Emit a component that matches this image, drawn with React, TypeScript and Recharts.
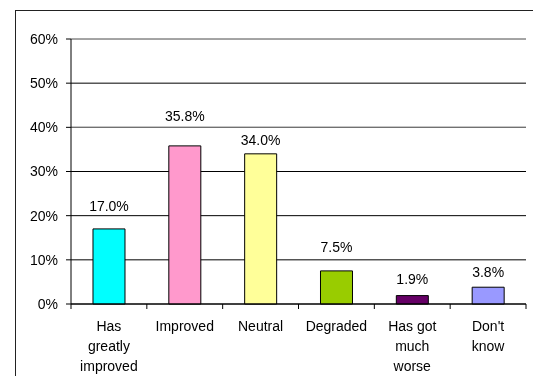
import React from 'react';
import { BarChart, Bar, XAxis, YAxis, CartesianGrid, LabelList, Cell, ReferenceLine } from 'recharts';

const categories = ['Has\ngreatly\nimproved', 'Improved', 'Neutral', 'Degraded', 'Has got\nmuch\nworse', "Don't\nknow"];
const shares = [17.0, 35.8, 34.0, 7.5, 1.9, 3.8];
const yTicks = [0, 10, 20, 30, 40, 50, 60];

const barColors = ['#00FFFF', '#FF99CC', '#FFFF99', '#99CC00', '#660066', '#9999FF'];
const labelGaps = [23, 29.5, 13.5, 24, 16.5, 15.5];
const FONT = '"Liberation Sans", Arial, sans-serif';

const CHART_W = 516;
const MARGIN = { top: 28, right: 6, left: 0, bottom: 0 };
const Y_W = 55;
const PLOT_W = CHART_W - MARGIN.left - MARGIN.right - Y_W;
const TICK_MARGIN = 12;

const data = categories.map((c, i) => ({ name: c, value: shares[i] }));

const XTick = (props: any) => {
  const { x, y, payload, index } = props;
  const band = PLOT_W / categories.length;
  const axisY = y - TICK_MARGIN;
  const lines = String(payload.value).split('\n');
  return (
    <g>
      <line x1={x - band / 2} x2={x - band / 2} y1={axisY} y2={axisY + 5} stroke="#000" />
      {index === categories.length - 1 && (
        <line x1={x + band / 2} x2={x + band / 2} y1={axisY} y2={axisY + 5} stroke="#000" />
      )}
      {lines.map((l: string, i: number) => (
        <text key={i} x={x} y={y + 15 + i * 20} textAnchor="middle" fontSize={14} fontFamily={FONT} fill="#000">
          {l}
        </text>
      ))}
    </g>
  );
};

const TopLabel = (props: any) => {
  const { x, y, width, value, index } = props;
  return (
    <text x={x + width / 2} y={y - labelGaps[index] + 5} textAnchor="middle" fontSize={14} fontFamily={FONT} fill="#000">
      {Number(value).toFixed(1) + '%'}
    </text>
  );
};

export default function App() {
  return (
    <div style={{ position: 'fixed', left: 15, top: 10, width: 540, height: 366, overflow: 'hidden' }}>
      <div style={{ width: 536, height: 380, border: '1px solid #222' }}>
        <BarChart width={CHART_W} height={366} data={data} margin={MARGIN} barCategoryGap="29%">
          <CartesianGrid vertical={false} stroke="#000" />
          <ReferenceLine y={60} stroke="#c8c8c8" />
          <ReferenceLine y={40} stroke="#808080" />
          <XAxis
            dataKey="name"
            interval={0}
            tick={<XTick />}
            tickLine={false}
            axisLine={{ stroke: '#000' }}
            height={73}
            tickSize={0}
            tickMargin={TICK_MARGIN}
          />
          <YAxis
            domain={[0, 60]}
            ticks={yTicks}
            tickFormatter={(v: number) => `${v}%`}
            tick={{ fontSize: 14, fontFamily: FONT, fill: '#000' }}
            axisLine={{ stroke: '#000' }}
            tickLine={{ stroke: '#000' }}
            tickSize={5}
            tickMargin={8}
            width={Y_W}
          />
          <Bar dataKey="value" stroke="#000" strokeWidth={1} isAnimationActive={false}>
            {data.map((d, i) => (
              <Cell key={i} fill={barColors[i]} />
            ))}
            <LabelList dataKey="value" content={<TopLabel />} />
          </Bar>
        </BarChart>
      </div>
    </div>
  );
}
